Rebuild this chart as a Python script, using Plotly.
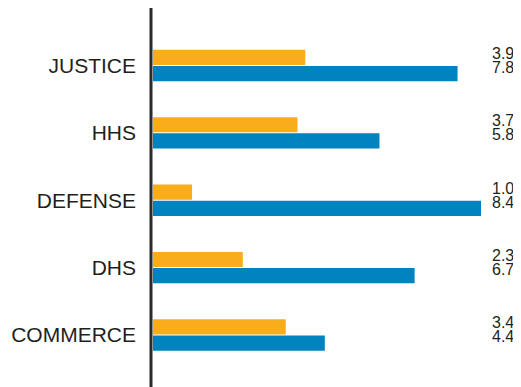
import plotly.graph_objects as go

departments = ["JUSTICE", "HHS", "DEFENSE", "DHS", "COMMERCE"]
series_a = [3.9, 3.7, 1.0, 2.3, 3.4]   # orange bars
series_b = [7.8, 5.8, 8.4, 6.7, 4.4]   # blue bars

ORANGE = "#FAAD1B"
BLUE = "#0083BE"
TEXT = "#231F20"
FONT = "Liberation Sans, Arial, sans-serif"

fig = go.Figure()
fig.add_trace(go.Bar(y=departments, x=series_a, orientation="h",
                     marker=dict(color=ORANGE, line=dict(width=0)), hoverinfo="x"))
fig.add_trace(go.Bar(y=departments, x=series_b, orientation="h",
                     marker=dict(color=BLUE, line=dict(width=0)), hoverinfo="x"))

# value labels on the right, orange value above blue value
for i, d in enumerate(departments):
    fig.add_annotation(x=1.108, xref="paper", y=d, yref="y", yshift=12,
                       text=f"{series_a[i]:.1f}", showarrow=False,
                       xanchor="right", yanchor="middle",
                       font=dict(size=16, color=TEXT, family=FONT))
    fig.add_annotation(x=1.108, xref="paper", y=d, yref="y", yshift=-2,
                       text=f"{series_b[i]:.1f}", showarrow=False,
                       xanchor="right", yanchor="middle",
                       font=dict(size=16, color=TEXT, family=FONT))

# vertical axis line just left of the bars
fig.add_shape(type="line", xref="paper", yref="paper",
              x0=-2 / 328, x1=-2 / 328, y0=0, y1=1.01,
              line=dict(color="#2b2b2b", width=3))

# page body has an 8px margin, so the figure is 8px smaller than the window
fig.update_layout(
    width=513, height=379,
    margin=dict(l=145, r=40, t=1, b=0, autoexpand=False),
    paper_bgcolor="white", plot_bgcolor="white",
    barmode="group", bargap=0.52, bargroupgap=0.06,
    showlegend=False,
    xaxis=dict(range=[0, 8.4], visible=False, fixedrange=True, automargin=False),
    yaxis=dict(categoryorder="array", categoryarray=departments,
               range=[4.772, -0.838], showgrid=False, zeroline=False,
               showline=False, ticks="", ticklabelstandoff=16, automargin=False,
               tickfont=dict(size=21, color=TEXT, family=FONT)),
)

fig.write_html("out.html")
